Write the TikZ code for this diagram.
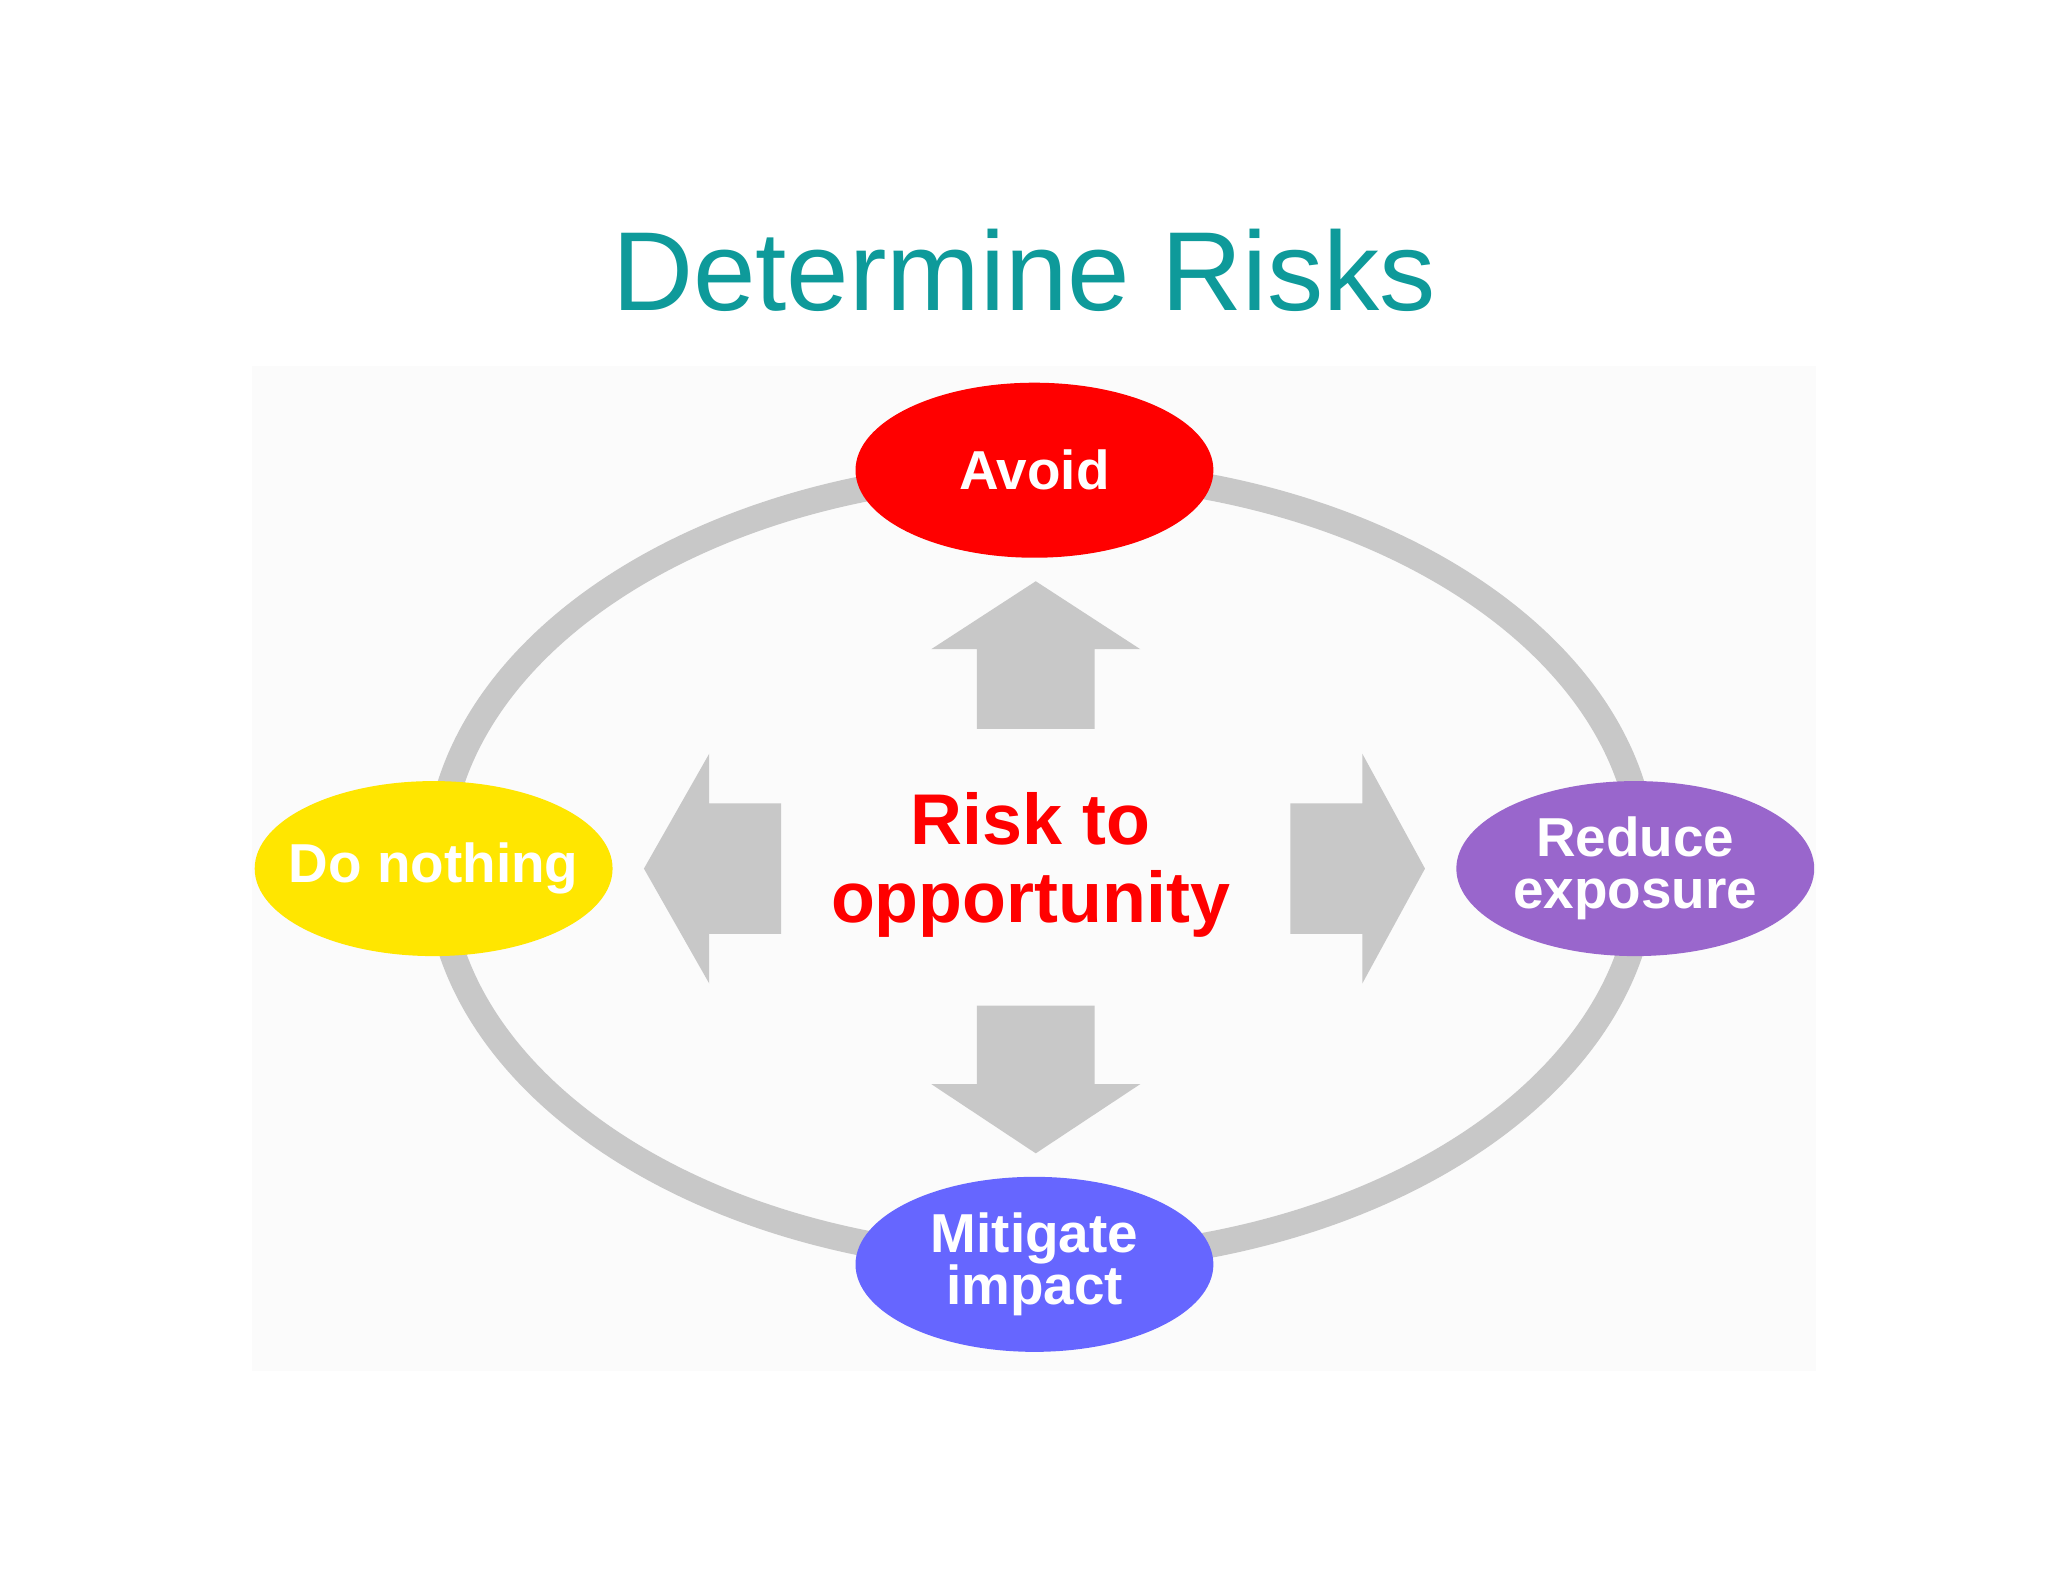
\documentclass[tikz,border=0pt]{standalone}
\usepackage{fontspec}
\setmainfont{Liberation Sans}
\usetikzlibrary{shapes.geometric}
\definecolor{teal1}{HTML}{0E9A9A}
\definecolor{ring}{HTML}{C8C8C8}
\definecolor{avoidc}{HTML}{FF0000}
\definecolor{yel}{HTML}{FFE600}
\definecolor{purp}{HTML}{9966CC}
\definecolor{blu}{HTML}{6666FF}
\begin{document}
\begin{tikzpicture}[x=0.5pt,y=-0.5pt,
  opt/.style={ellipse,minimum width=274pt*0.5,minimum height=134pt*0.5,inner sep=0pt,text=white,font=\bfseries\fontsize{21}{20}\selectfont,align=center},
  arr/.style={fill=ring,draw=none}]
\useasboundingbox (0,0) rectangle (1568,1211);
\fill[white] (0,0) rectangle (1568,1211);
\fill[black!1.5] (193,280) rectangle (1390,1050);
\node[text=teal1,font=\fontsize{43}{46}\selectfont] (title) at (784,207) {Determine Risks};
\draw[ring,line width=10pt] (797,663) ellipse [x radius=462,y radius=302];
\node[opt,fill=avoidc] (avoid) at (792,360) {Avoid};
\node[opt,fill=yel] (nothing) at (332,665) {\makebox[0pt]{Do nothing}};
\node[opt,fill=purp] (reduce) at (1252,665) {Reduce\\exposure};
\node[opt,fill=blu] (mitigate) at (792,968) {Mitigate\\impact};
\node[text=avoidc,font=\bfseries\fontsize{27.5}{30}\selectfont,align=center] (center) at (789,662) {Risk to\\opportunity};
\fill[arr] (748,558) -- (748,497) -- (713,497) -- (793,445) -- (873,497) -- (838,497) -- (838,558) -- cycle;
\fill[arr] (748,770) -- (748,830) -- (713,830) -- (793,883) -- (873,830) -- (838,830) -- (838,770) -- cycle;
\fill[arr] (598,615) -- (543,615) -- (543,577) -- (493,665) -- (543,753) -- (543,715) -- (598,715) -- cycle;
\fill[arr] (988,615) -- (1043,615) -- (1043,577) -- (1091,665) -- (1043,753) -- (1043,715) -- (988,715) -- cycle;
\end{tikzpicture}
\end{document}
